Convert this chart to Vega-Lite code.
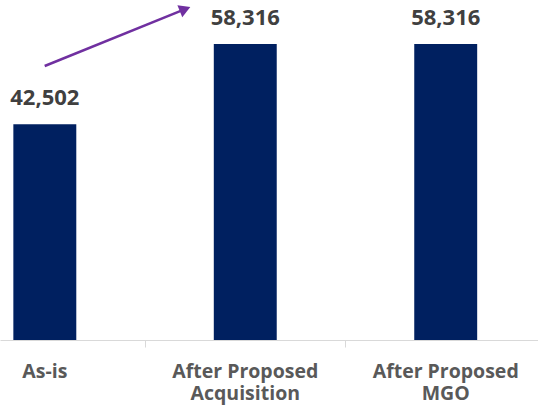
{
  "$schema": "https://vega.github.io/schema/vega-lite/v6.json",
  "width": 538,
  "height": 340,
  "autosize": "none",
  "padding": {"left": 0, "top": 0, "right": 0, "bottom": 72},
  "background": "white",
  "config": {"view": {"stroke": null}, "font": "Open Sans"},
  "datasets": {
    "bars": [
      {"scenario": "As-is", "value": 42502},
      {"scenario": "After Proposed Acquisition", "value": 58316},
      {"scenario": "After Proposed MGO", "value": 58316}
    ],
    "arrow": [
      {"pos": 0, "val": 54000, "pos2": 0.7, "val2": 65200}
    ]
  },
  "resolve": {"scale": {"x": "independent"}, "axis": {"x": "independent"}},
  "layer": [
    {
      "data": {"name": "bars"},
      "layer": [
        {
          "mark": {"type": "bar", "color": "#002060"},
          "encoding": {
            "x": {
              "field": "scenario", "type": "nominal", "sort": null,
              "scale": {"paddingInner": 0.686, "paddingOuter": 0.185, "align": 0.18},
              "axis": {
                "title": null, "labelAngle": 0, "ticks": false,
                "domainColor": "#d9d9d9", "domainWidth": 1,
                "labelFont": "Open Sans", "labelFontWeight": "bold", "labelFontSize": 19.5,
                "labelColor": "#595959", "labelPadding": 22, "labelLineHeight": 22,
                "labelBaseline": "top",
                "labelExpr": "datum.label == 'As-is' ? 'As-is' : ['After Proposed', slice(datum.label, 15)]"
              }
            },
            "y": {"field": "value", "type": "quantitative", "scale": {"domain": [0, 67000], "nice": false}, "axis": null}
          }
        },
        {
          "mark": {"type": "text", "font": "Open Sans", "fontWeight": "bold", "fontSize": 22, "color": "#404040", "baseline": "alphabetic", "dy": -19},
          "encoding": {
            "x": {"field": "scenario", "type": "nominal", "sort": null},
            "y": {"field": "value", "type": "quantitative"},
            "text": {"field": "value", "type": "quantitative", "format": ",d"}
          }
        }
      ]
    },
    {
      "data": {"name": "arrow"},
      "layer": [
        {
          "mark": {"type": "rule", "color": "#7030A0", "strokeWidth": 2.5},
          "encoding": {
            "x": {
              "field": "pos", "type": "quantitative",
              "scale": {"domain": [-0.223, 2.46], "nice": false, "zero": false},
              "axis": {
                "orient": "bottom", "values": [0.5, 1.5], "labels": false, "domain": false,
                "grid": false, "title": null, "tickSize": 7, "tickColor": "#d9d9d9", "tickWidth": 1
              }
            },
            "x2": {"field": "pos2"},
            "y": {"field": "val", "type": "quantitative"},
            "y2": {"field": "val2"}
          }
        },
        {
          "mark": {"type": "point", "shape": "triangle-up", "filled": true, "color": "#7030A0", "opacity": 1, "size": 170, "angle": 68},
          "encoding": {
            "x": {"field": "pos2", "type": "quantitative"},
            "y": {"field": "val2", "type": "quantitative"}
          }
        }
      ]
    }
  ]
}
